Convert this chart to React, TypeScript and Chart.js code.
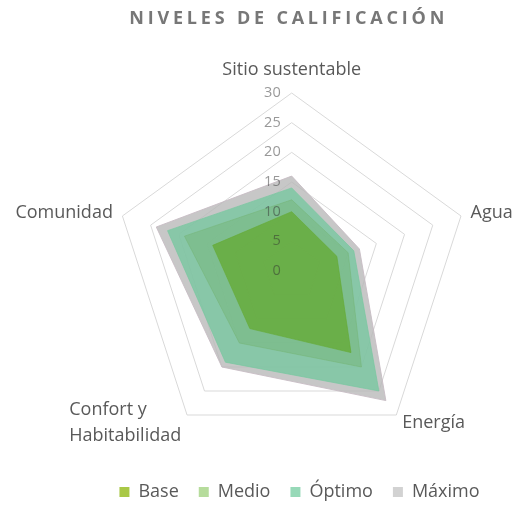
import React, { useEffect, useRef } from 'react';
import { Chart, registerables } from 'chart.js';

Chart.register(...registerables);

// ---- data ----
const categories: (string | string[])[] = [
  'Sitio sustentable',
  'Agua',
  'Energía',
  ['Confort y', 'Habitabilidad'],
  'Comunidad',
];
const seriesNames = ['Base', 'Medio', 'Óptimo', 'Máximo'];
const baseValues = [10, 8, 17, 12, 14];
const medioValues = [12, 10, 20, 15, 19];
const optimoValues = [14, 11, 25, 19, 22];
const maximoValues = [16, 12, 27, 20, 24];
const axisMin = 0;
const axisMax = 30;
const axisStep = 5;
const chartTitle = 'NIVELES DE CALIFICACIÓN';

// ---- styles ----
const FONT = '"Open Sans", "DejaVu Sans", sans-serif';
const fillColors = [
  'rgba(100,170,50,0.75)',
  'rgba(115,180,115,0.45)',
  'rgba(110,200,155,0.7)',
  'rgba(185,185,185,0.8)',
];
const borderColors = [
  'rgba(100,170,50,0.6)',
  'rgba(115,180,115,0.5)',
  'rgba(120,200,160,0.7)',
  'rgba(200,188,196,0.9)',
];
const legendColors = ['#a9c846', '#b6dc9c', '#97d9b8', '#d2d2d2'];

const radarPlugin = {
  id: 'excelRadar',
  afterLayout(chart: any) {
    const s = chart.scales.r;
    s.xCenter = 291.7;
    s.yCenter = 271;
    s.drawingArea = 178;
  },
  afterDatasetsDraw(chart: any) {
    const ctx = chart.ctx;
    const s = chart.scales.r;
    ctx.save();
    ctx.font = `14.5px ${FONT}`;
    ctx.fillStyle = 'rgba(50,50,50,0.5)';
    ctx.textAlign = 'right';
    ctx.textBaseline = 'middle';
    s.ticks.forEach((t: any) => {
      const d = s.getDistanceFromCenterForValue(t.value);
      ctx.fillText(t.label, s.xCenter - 11, s.yCenter - d);
    });
    ctx.restore();
  },
  afterDraw(chart: any) {
    const ctx = chart.ctx;
    const s = chart.scales.r;
    ctx.save();
    // title
    ctx.font = `bold 18px ${FONT}`;
    ctx.fillStyle = '#777777';
    ctx.textAlign = 'center';
    ctx.textBaseline = 'middle';
    (ctx as any).letterSpacing = '3.8px';
    ctx.fillText(chartTitle, s.xCenter - 3, 19);
    (ctx as any).letterSpacing = '0px';

    // point labels
    ctx.font = `18px ${FONT}`;
    ctx.fillStyle = '#595959';
    const lineH = 26;
    (chart.data.labels as any[]).forEach((lab, i) => {
      const lines: string[] = Array.isArray(lab) ? lab : [lab];
      const angle = s.getIndexAngle(i);
      const p = s.getPointPosition(i, s.drawingArea + 10);
      const sin = Math.sin(angle);
      const cos = Math.cos(angle);
      const w = Math.max(...lines.map((l) => ctx.measureText(l).width));
      let left: number;
      if (Math.abs(sin) < 0.1) left = p.x - w / 2;
      else if (sin > 0) left = p.x;
      else left = p.x - w;
      const h = lines.length * lineH;
      let top: number;
      if (cos > 0.9) top = p.y - h;
      else top = p.y - h / 2;
      ctx.textAlign = 'left';
      ctx.textBaseline = 'middle';
      lines.forEach((l, k) => {
        const lw = ctx.measureText(l).width;
        const x = Math.abs(sin) < 0.1 ? left + (w - lw) / 2 : left;
        ctx.fillText(l, x, top + lineH * k + lineH / 2);
      });
    });
    ctx.restore();
  },
};

export default function App() {
  const ref = useRef<HTMLCanvasElement | null>(null);
  useEffect(() => {
    if (!ref.current) return;
    const seriesValues = [baseValues, medioValues, optimoValues, maximoValues];
    const chart = new Chart(ref.current, {
      type: 'radar',
      data: {
        labels: categories as any,
        datasets: seriesNames.map((name, i) => ({
          label: name,
          data: seriesValues[i],
          backgroundColor: fillColors[i],
          borderColor: borderColors[i],
          borderWidth: 1,
          pointRadius: 0,
          pointHoverRadius: 0,
          fill: true,
        })),
      },
      options: {
        animation: false,
        responsive: true,
        maintainAspectRatio: false,
        layout: { padding: { left: 86, bottom: 4 } },
        scales: {
          r: {
            min: axisMin,
            max: axisMax,
            ticks: { stepSize: axisStep, display: false },
            grid: { color: '#d9d9d9', lineWidth: 1 },
            angleLines: { display: false },
            pointLabels: { display: false },
          },
        },
        plugins: {
          title: { display: false },
          tooltip: { enabled: false },
          legend: {
            position: 'bottom',
            labels: {
              boxWidth: 10,
              boxHeight: 10,
              padding: 20,
              color: '#595959',
              font: { family: FONT, size: 18 },
              generateLabels: (c: any) =>
                c.data.datasets.map((ds: any, i: number) => ({
                  text: ds.label,
                  fillStyle: legendColors[i],
                  strokeStyle: legendColors[i],
                  lineWidth: 0,
                  hidden: false,
                  datasetIndex: i,
                  fontColor: '#595959',
                })),
            },
          },
        },
      },
      plugins: [radarPlugin],
    });
    return () => chart.destroy();
  }, []);
  return (
    <div style={{ position: 'fixed', left: 0, top: 0, width: 513, height: 515, background: '#fff' }}>
      <canvas ref={ref} />
    </div>
  );
}
